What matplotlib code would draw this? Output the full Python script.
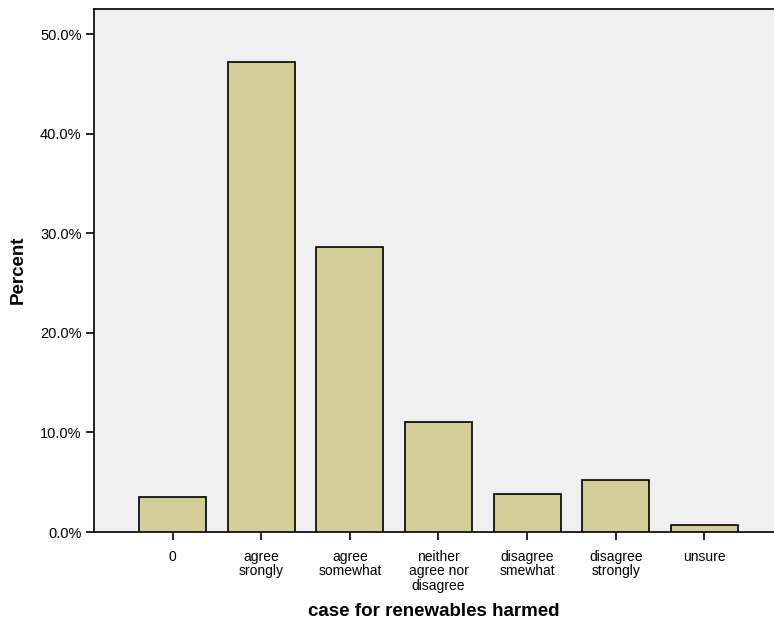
import matplotlib
matplotlib.use("Agg")
import matplotlib.pyplot as plt
from matplotlib.ticker import FuncFormatter

categories = ["0", "agree\nsrongly", "agree\nsomewhat", "neither\nagree nor\ndisagree",
              "disagree\nsmewhat", "disagree\nstrongly", "unsure"]
percent = [3.5, 47.2, 28.6, 11.05, 3.85, 5.2, 0.75]
yticks = [0, 10, 20, 30, 40, 50]

plt.rcParams['font.family'] = ['Liberation Sans', 'DejaVu Sans']

fig = plt.figure(figsize=(7.74, 6.28), dpi=100)
ax = fig.add_axes([94/774, 96/628, 680/774, 523.5/628])
ax.set_facecolor('#F0F0F0')

x = list(range(len(categories)))
ax.bar(x, percent, width=0.757, color='#D3CE98', edgecolor='black', linewidth=1.2, zorder=3)

ax.set_xlim(-0.888, 6.787)
ax.set_ylim(0, 52.6)
ax.set_yticks(yticks)
ax.yaxis.set_major_formatter(FuncFormatter(lambda v, p: f"{v:.1f}%"))
ax.set_xticks(x)
ax.set_xticklabels(categories, fontsize=10, linespacing=1.03, va='top')
ax.tick_params(axis='y', labelsize=10.5, length=6, width=1.2, direction='out', pad=3)
ax.tick_params(axis='x', length=6, width=1.2, direction='out', pad=7)

for s in ['left', 'bottom', 'top']:
    ax.spines[s].set_linewidth(1.2)
    ax.spines[s].set_color('black')
ax.spines['right'].set_visible(False)

ax.set_xlabel("case for renewables harmed", fontsize=13.5, fontweight='bold', va='center')
ax.xaxis.set_label_coords(0.5 + (0)/680, -80/523.5)
ax.set_ylabel("Percent", fontsize=13.5, fontweight='bold', va='center')
ax.yaxis.set_label_coords((18-94)/680, 0.5)

fig.savefig("out.png", dpi=100)
